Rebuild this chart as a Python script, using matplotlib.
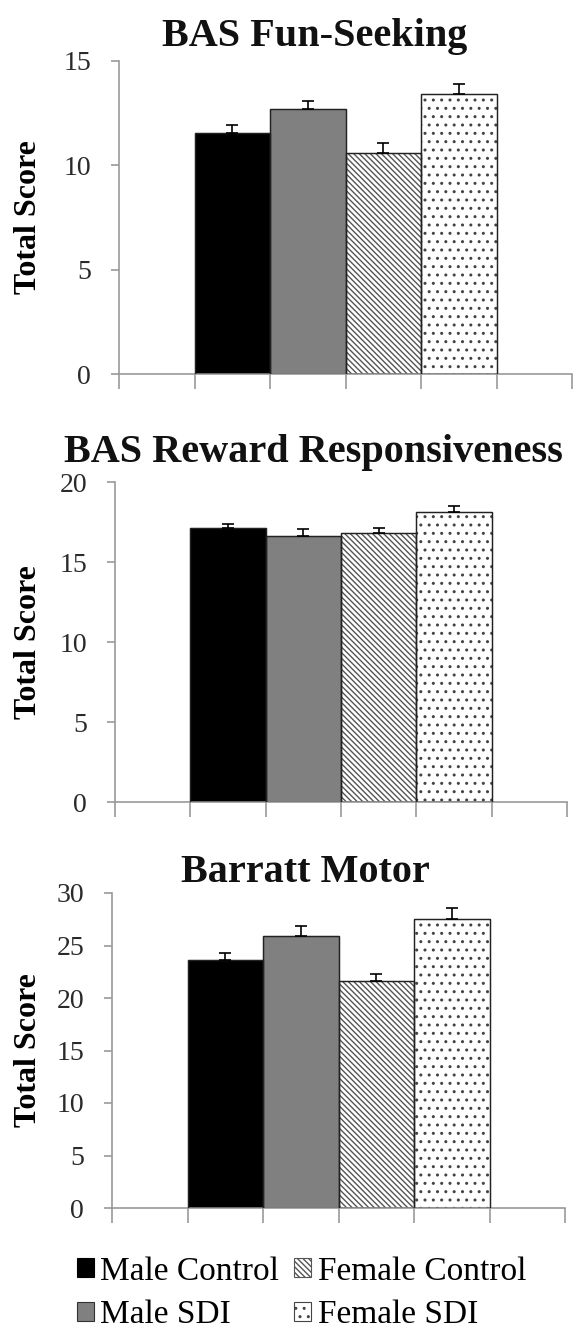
import numpy as np
import matplotlib.pyplot as plt

groups = ["Male Control", "Male SDI", "Female Control", "Female SDI"]
titles = ["BAS Fun-Seeking", "BAS Reward Responsiveness", "Barratt Motor"]

fun_mean = [11.55, 12.7, 10.6, 13.4]
fun_err = [0.4, 0.4, 0.45, 0.5]
rew_mean = [17.1, 16.6, 16.8, 18.1]
rew_err = [0.3, 0.45, 0.35, 0.4]
mot_mean = [23.6, 25.9, 21.65, 27.55]
mot_err = [0.65, 0.95, 0.65, 1.05]

ymax = [15, 20, 30]

means = [fun_mean, rew_mean, mot_mean]
errs = [fun_err, rew_err, mot_err]

plt.rcParams['font.family'] = ['Liberation Serif', 'DejaVu Serif']
plt.rcParams['hatch.linewidth'] = 1.0

W, H = 573.0, 1336.0
fig = plt.figure(figsize=(W / 100, H / 100), dpi=100)

# axes boxes in pixels: left, right, top, bottom
boxes = [(119, 572, 61, 374), (115, 567, 482, 802), (112, 565, 893, 1208)]
title_y = [46, 462, 882]
title_x = [315, 313, 305]

faces = ['black', '#808080', 'white', 'white']
hatches = [None, None, '\\\\\\\\\\\\', '..']
edges = ['black', '#333333', '#555555', '#444444']

axcol = '#999999'
handles = []
for i in range(3):
    l, r, t, b = boxes[i]
    ax = fig.add_axes([l / W, 1 - b / H, (r - l) / W, (b - t) / H])
    x = np.arange(4) + 1.5
    handles = []
    for j in range(4):
        bc = ax.bar(x[j], means[i][j], width=1.0, color=faces[j], edgecolor=edges[j],
                    hatch=hatches[j], linewidth=0.8, label=groups[j], zorder=2)
        handles.append(bc)
    # dark outline on top of the hatched bars
    ax.bar(x, means[i], width=1.0, color='none', edgecolor='#222222', linewidth=1.0, zorder=3)
    ax.errorbar(x, means[i], yerr=[np.zeros(4), errs[i]], fmt='none', ecolor='black',
                elinewidth=1.2, capsize=4.3, capthick=1.2, zorder=4)
    ax.set_xlim(0, 6)
    ax.set_ylim(0, ymax[i])
    ax.set_yticks(np.arange(0, ymax[i] + 1, 5))
    ax.set_xticks(np.arange(0, 7))
    ax.set_xticklabels([])
    for s in ['top', 'right']:
        ax.spines[s].set_visible(False)
    for s in ['left', 'bottom']:
        ax.spines[s].set_color(axcol)
        ax.spines[s].set_linewidth(1.2)
    ax.tick_params(axis='y', direction='out', length=6, width=1.2, color=axcol,
                   labelsize=20, labelcolor='#2a2a2a', pad=14)
    ax.tick_params(axis='x', direction='out', length=11, width=1.2, color=axcol)
    fig.text(29 / W, 1 - (t + b) / 2 / H, 'Total Score', rotation=90, ha='center',
             va='center', fontsize=23, fontweight='bold')
    fig.text(title_x[i] / W, 1 - title_y[i] / H, titles[i], ha='center', va='baseline',
             fontsize=29, fontweight='bold', color='#111111')

fig.legend(handles=handles, labels=groups, ncol=2, loc='upper left',
           bbox_to_anchor=(77 / W, 1 - 1256 / H), frameon=False, fontsize=24,
           handlelength=0.5, handleheight=0.5, handletextpad=0.2,
           columnspacing=0.45, labelspacing=0.4, borderpad=0, borderaxespad=0)

fig.savefig('out.png', dpi=100)
